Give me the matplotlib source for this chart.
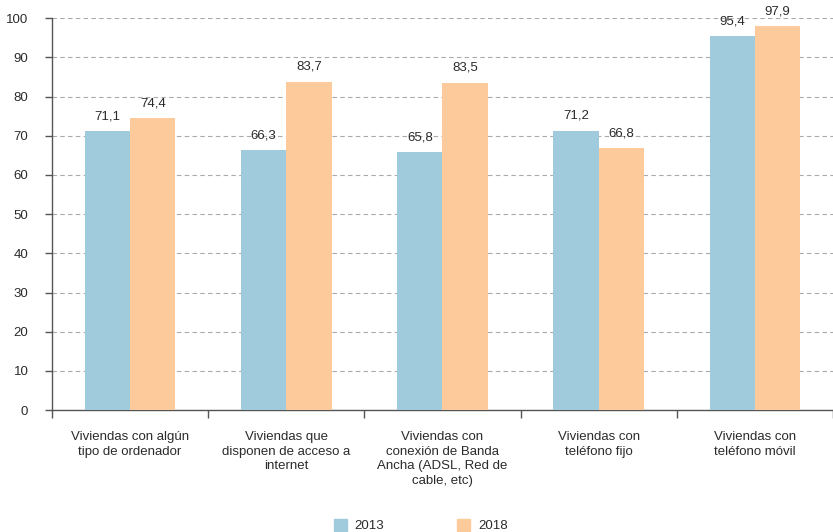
import numpy as np
import matplotlib.pyplot as plt
from matplotlib.patches import Patch

categories = ["Viviendas con algún\ntipo de ordenador",
              "Viviendas que\ndisponen de acceso a\ninternet",
              "Viviendas con\nconexión de Banda\nAncha (ADSL, Red de\ncable, etc)",
              "Viviendas con\nteléfono fijo",
              "Viviendas con\nteléfono móvil"]
vals_2013 = [71.1, 66.3, 65.8, 71.2, 95.4]
vals_2018 = [74.4, 83.7, 83.5, 66.8, 97.9]
years = ["2013", "2018"]

c13 = "#9fcbdd"
c18 = "#fdca9b"
dark = "#2b2b2b"

plt.rcParams['font.family'] = ['Liberation Sans', 'DejaVu Sans']
plt.rcParams['font.size'] = 9.5

fig = plt.figure(figsize=(8.33, 5.32), dpi=100)
ax = fig.add_axes([0.0624, 0.229, 0.9376, 0.737])

x = np.arange(len(categories))
w = 0.29
b1 = ax.bar(x - w / 2, vals_2013, w, color=c13, zorder=3)
b2 = ax.bar(x + w / 2, vals_2018, w, color=c18, zorder=3)

for bars, vals in ((b1, vals_2013), (b2, vals_2018)):
    for rect, v in zip(bars, vals):
        ax.text(rect.get_x() + rect.get_width() / 2, v + 2.3,
                f"{v:.1f}".replace(".", ","), ha="center", va="bottom",
                color=dark, fontsize=9.5)

ax.set_xlim(-0.5, len(categories) - 0.5)
ax.set_ylim(0, 100)
ax.set_yticks(range(0, 101, 10))
ax.yaxis.grid(True, linestyle=(0, (4, 3)), color="#aaaaaa", linewidth=0.8, zorder=0)

ax.set_xticks(np.arange(-0.5, len(categories), 1.0))
ax.set_xticklabels([])
ax.set_xticks(x, minor=True)
ax.set_xticklabels(categories, minor=True, color=dark, fontsize=9.5, linespacing=1.3)
ax.tick_params(axis="x", which="minor", length=0, pad=15)
ax.tick_params(axis="x", which="major", length=6, width=1, color="#555555", direction="out")
ax.tick_params(axis="y", length=5, width=1, color="#555555", labelcolor=dark, pad=12)
for lab in ax.get_yticklabels():
    lab.set_fontsize(9.5)

for s in ("top", "right"):
    ax.spines[s].set_visible(False)
for s in ("left", "bottom"):
    ax.spines[s].set_color("#555555")
    ax.spines[s].set_linewidth(1)

handles = [Patch(color=c13), Patch(color=c18)]
fig.legend(handles, years, loc="center", bbox_to_anchor=(0.505, 0.012), ncol=2,
           frameon=False, handlelength=1.0, handleheight=1.0, handletextpad=0.6,
           columnspacing=5.5, fontsize=9.5, labelcolor=dark)

fig.savefig("out.png", dpi=100)
